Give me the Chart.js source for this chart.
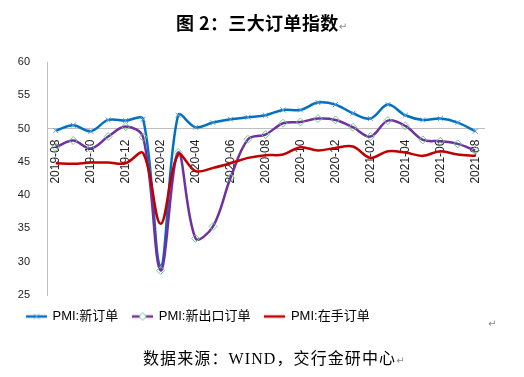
<!DOCTYPE html>
<html>
<head>
<meta charset="utf-8">
<script src="https://cdn.jsdelivr.net/npm/chart.js@4.4.0/dist/chart.umd.min.js"></script>
<style>
  body { margin: 0; background: #fff; }
  #wrap { position: relative; width: 524px; height: 377px; overflow: hidden; }
  #chart { position: absolute; left: 0; top: 0; }
  .title {
    position: absolute; left: 176px; top: 9px; white-space: nowrap;
    font: bold 18px "Noto Sans CJK SC", sans-serif; letter-spacing: 0.4px; color: #000;
  }
  .source {
    position: absolute; left: 143px; top: 345px; white-space: nowrap;
    font: 16px "Liberation Serif", "Noto Sans CJK SC", serif; letter-spacing: 1.1px; color: #000;
  }
  .ret { font: 10px "DejaVu Sans", sans-serif; color: #888; letter-spacing: 0; }
  .ret.free { position: absolute; left: 488px; top: 318px; }
</style>
</head>
<body>
<div id="wrap">
  <canvas id="chart" width="524" height="377"></canvas>
  <div class="title">图 2：三大订单指数<span class="ret">↵</span></div>
  <div class="source">数据来源：WIND，交行金研中心<span class="ret">↵</span></div>
  <span class="ret free">↵</span>
</div>
<script>
const months = [
  "2019-08", "2019-09", "2019-10", "2019-11", "2019-12",
  "2020-01", "2020-02", "2020-03", "2020-04", "2020-05", "2020-06", "2020-07",
  "2020-08", "2020-09", "2020-10", "2020-11", "2020-12",
  "2021-01", "2021-02", "2021-03", "2021-04", "2021-05", "2021-06", "2021-07", "2021-08"
];
// PMI: 新订单
const newOrders = [
  49.7, 50.5, 49.6, 51.3, 51.2,
  51.4, 29.3, 52.0, 50.2, 50.9, 51.4, 51.7,
  52.0, 52.8, 52.8, 53.9, 53.6,
  52.3, 51.5, 53.6, 52.0, 51.3, 51.5, 50.9, 49.6
];
// PMI: 新出口订单
const exportOrders = [
  47.2, 48.2, 47.0, 48.8, 50.3,
  48.7, 28.7, 46.4, 33.5, 35.3, 42.6, 48.4,
  49.1, 50.8, 51.0, 51.5, 51.3,
  50.2, 48.8, 51.2, 50.4, 48.3, 48.1, 47.7, 46.7
];
// PMI: 在手订单
const backlogOrders = [
  44.8, 44.7, 44.9, 44.9, 44.8,
  46.3, 35.7, 46.1, 43.6, 44.1, 44.8, 45.6,
  46.0, 46.1, 47.2, 46.7, 47.1,
  47.3, 45.6, 46.6, 46.4, 45.9, 46.6, 46.1, 45.9
];
const seriesNames = ["PMI:新订单", "PMI:新出口订单", "PMI:在手订单"];

const BLUE = "#0070C0", BLUE_MARK = "#5B9BD5";
const PURPLE = "#7030A0", GREEN_MARK = "#6CCB8C";
const RED = "#C00000";

// small legend icons: line segment with marker in the middle
function legendIcon(color, marker) {
  const c = document.createElement("canvas");
  c.width = 21; c.height = 10;
  const g = c.getContext("2d");
  g.strokeStyle = color; g.lineWidth = 2.5;
  g.beginPath(); g.moveTo(0, 5); g.lineTo(21, 5); g.stroke();
  g.lineWidth = 1;
  if (marker === "cross") {
    g.strokeStyle = BLUE_MARK;
    g.beginPath();
    g.moveTo(8, 2.5); g.lineTo(13, 7.5);
    g.moveTo(13, 2.5); g.lineTo(8, 7.5);
    g.stroke();
  } else if (marker === "diamond") {
    g.strokeStyle = GREEN_MARK; g.fillStyle = "#fff";
    g.beginPath();
    g.moveTo(10.5, 1); g.lineTo(14, 5); g.lineTo(10.5, 9); g.lineTo(7, 5); g.closePath();
    g.fill(); g.stroke();
  }
  return c;
}
const icons = [legendIcon(BLUE, "cross"), legendIcon(PURPLE, "diamond"), legendIcon(RED, null)];

const tickFont = { family: "'Liberation Sans', 'Noto Sans'", size: 11 };

new Chart(document.getElementById("chart"), {
  type: "line",
  data: {
    labels: months,
    datasets: [
      {
        label: seriesNames[0],
        data: newOrders,
        borderColor: BLUE,
        borderWidth: 2.5,
        pointStyle: "crossRot",
        pointRadius: 3.5,
        pointBorderColor: BLUE_MARK,
        pointBorderWidth: 1,
        tension: 0.35,
        order: 3,
      },
      {
        label: seriesNames[1],
        data: exportOrders,
        borderColor: PURPLE,
        borderWidth: 2.5,
        pointStyle: "rectRot",
        pointRadius: 4,
        pointBorderColor: GREEN_MARK,
        pointBackgroundColor: "rgba(255,255,255,0)",
        pointBorderWidth: 1,
        tension: 0.35,
        order: 2,
      },
      {
        label: seriesNames[2],
        data: backlogOrders,
        borderColor: RED,
        borderWidth: 2.5,
        pointRadius: 0,
        tension: 0.35,
        order: 1,
      },
    ],
  },
  options: {
    responsive: false,
    animation: false,
    layout: { padding: { left: 12, right: 40, top: 62, bottom: 44 } },
    scales: {
      x: {
        type: "category",
        position: { y: 50 },
        offset: true,
        grid: { display: false },
        border: { display: true, color: "#BFBFBF", width: 1 },
        ticks: {
          autoSkip: false,
          minRotation: 90,
          maxRotation: 90,
          padding: 3,
          color: "#222",
          font: { family: "'Liberation Sans', 'Noto Sans'", size: 12 },
          callback: (val, i) => (i % 2 === 0 ? months[i] : ""),
        },
      },
      y: {
        min: 25,
        max: 60,
        grid: { display: false },
        border: { display: true, color: "#BFBFBF", width: 1 },
        ticks: { stepSize: 5, padding: 9, color: "#222", font: tickFont },
        afterFit: (s) => { s.width = 35; },
      },
    },
    plugins: {
      title: { display: false },
      tooltip: { enabled: false },
      legend: {
        position: "bottom",
        align: "start",
        labels: {
          usePointStyle: true,
          pointStyleWidth: 19,
          padding: 15,
          color: "#000",
          font: { family: "'Liberation Sans', 'Noto Sans CJK SC'", size: 13 },
          generateLabels: (chart) =>
            chart.data.datasets.map((ds, i) => ({
              text: ds.label,
              pointStyle: icons[i],
              datasetIndex: i,
              hidden: false,
              fontColor: "#000",
              fillStyle: "transparent",
              strokeStyle: "transparent",
              lineWidth: 0,
            })),
        },
      },
    },
  },
});
</script>
</body>
</html>
